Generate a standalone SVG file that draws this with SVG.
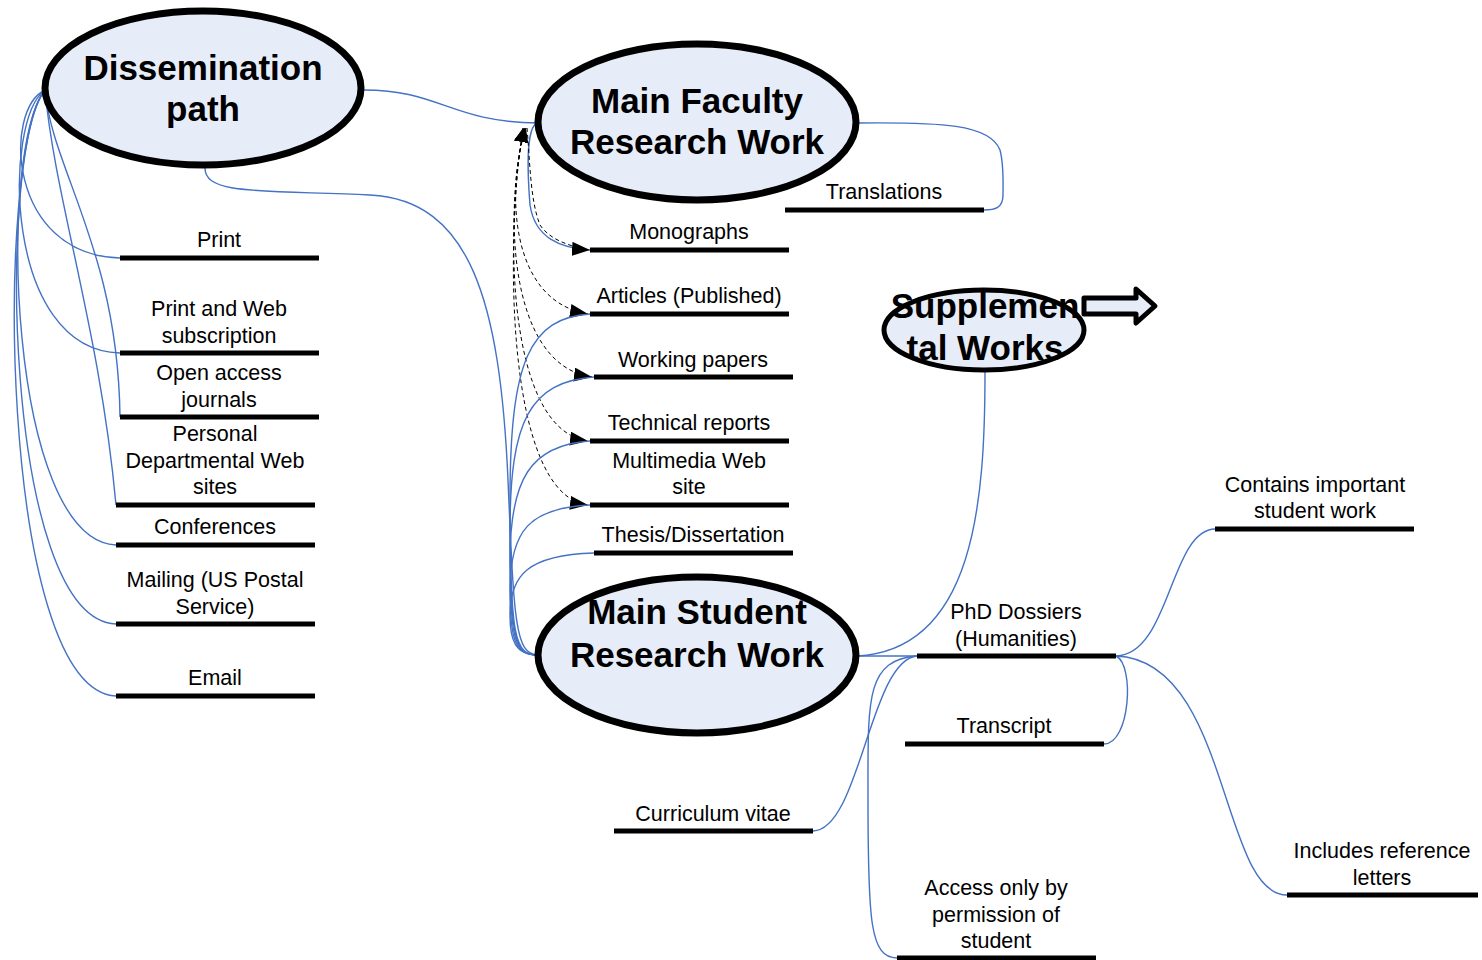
<svg xmlns="http://www.w3.org/2000/svg" width="1482" height="960" viewBox="0 0 1482 960">
<style>
.ell{fill:#e7edf8;stroke:#000;stroke-width:7}
.title{font-family:"Liberation Sans",Arial,sans-serif;font-weight:bold;font-size:35px;fill:#000;text-anchor:middle}
.lbl{font-family:"Liberation Sans",Arial,sans-serif;font-size:21.5px;fill:#000;text-anchor:middle}
.bar{stroke:#000;stroke-width:5;fill:none}
.c{fill:none;stroke:#4472c4;stroke-width:1.4}
.d{fill:none;stroke:#000;stroke-width:1;stroke-dasharray:4 3}
</style>
<defs>
<marker id="ah" markerUnits="userSpaceOnUse" markerWidth="20" markerHeight="14" refX="18" refY="7" orient="auto">
<path d="M0,0 L18,7 L0,14 Z" fill="#000"/>
</marker>
<marker id="as" markerUnits="userSpaceOnUse" markerWidth="16" markerHeight="14" refX="14" refY="7" orient="auto-start-reverse">
<path d="M0,0 L14,7 L0,14 Z" fill="#000"/>
</marker>
</defs>
<rect width="1482" height="960" fill="#fff"/>

<g id="connectors">
<path class="c" d="M45,90 C3,110 8,255 120,258"/>
<path class="c" d="M45,90 C3,120 3,350 120,353"/>
<path class="c" d="M45,90 C52,170 118,250 120,417"/>
<path class="c" d="M45,90 C55,200 100,330 116,505"/>
<path class="c" d="M45,90 C-3,150 8,540 116,545"/>
<path class="c" d="M45,90 C-3,150 3,620 116,624"/>
<path class="c" d="M45,90 C-5,150 -2,690 116,696"/>
<path class="c" d="M364,90 C440,90 450,122 538,123"/>
<path class="c" d="M205,168 C205,195 260,190 370,195 C470,200 500,300 508,480 C514,620 515,655 538,655"/>
<path class="c" d="M538,123 C525,125 528,180 530,205 C535,238 560,248 590,250" marker-end="url(#ah)"/>
<path class="d" d="M527,128 C530,160 530,200 540,225 C550,240 570,246 588,250"/>
<path class="d" d="M526,128 C508,180 505,300 588,314" marker-start="url(#as)" marker-end="url(#ah)"/>
<path class="d" d="M525,128 C505,200 505,365 592,377" marker-start="url(#as)" marker-end="url(#ah)"/>
<path class="d" d="M524,128 C505,220 505,430 588,441" marker-start="url(#as)" marker-end="url(#ah)"/>
<path class="d" d="M523,128 C505,240 505,495 588,505" marker-start="url(#as)" marker-end="url(#ah)"/>
<path class="c" d="M538,655 C515,655 510,640 510,615 C510,575 528,555 594,553"/>
<path class="c" d="M538,655 C515,655 510,640 510,590 C510,530 530,508 590,505"/>
<path class="c" d="M538,655 C515,655 510,640 510,560 C510,480 530,445 590,441"/>
<path class="c" d="M538,655 C515,655 510,640 510,530 C510,420 530,382 594,377"/>
<path class="c" d="M538,655 C515,655 510,640 510,500 C510,360 530,318 590,314"/>
<path class="c" d="M857,123 C940,122 990,124 1000,150 C1004,165 1003,185 1003,195 C1003,208 995,210 984,210"/>
<path class="c" d="M985,372 C985,500 975,650 857,656"/>
<path class="c" d="M857,656 C880,656 900,656 917,656"/>
<path class="c" d="M917,656 C870,660 860,830 813,831"/>
<path class="c" d="M917,656 C865,660 868,700 868,800 C868,920 870,958 897,958"/>
<path class="c" d="M1116,656 C1170,655 1170,530 1215,529"/>
<path class="c" d="M1116,656 C1230,660 1220,895 1287,895"/>
<path class="c" d="M1116,656 C1135,665 1130,744 1104,744"/>
</g>

<g id="dissemination">
<ellipse class="ell" cx="203" cy="88" rx="158" ry="77"/>
<text class="title" x="203" y="80">Dissemination</text>
<text class="title" x="203" y="121">path</text>
</g>
<g id="faculty">
<ellipse class="ell" cx="697" cy="122" rx="159" ry="78"/>
<text class="title" x="697" y="113">Main Faculty</text>
<text class="title" x="697" y="154">Research Work</text>
</g>
<g id="student">
<ellipse class="ell" cx="697" cy="655" rx="159" ry="78"/>
<text class="title" x="697" y="624">Main Student</text>
<text class="title" x="697" y="667">Research Work</text>
</g>
<g id="supplemental">
<ellipse class="ell" style="stroke-width:5" cx="984" cy="330" rx="100" ry="40"/>
<text class="title" x="985" y="318">Supplemen</text>
<text class="title" x="985" y="360">tal Works</text>
<path d="M1084,298 L1136,298 L1136,289 L1155,306 L1136,323 L1136,314 L1084,314 Z" fill="#e7edf8" stroke="#000" stroke-width="5" stroke-linejoin="round"/>
</g>

<g id="print"><line class="bar" x1="120" y1="258" x2="319" y2="258"/><text class="lbl" x="219" y="247">Print</text></g>
<g id="printweb"><line class="bar" x1="120" y1="353" x2="319" y2="353"/><text class="lbl" x="219" y="316">Print and Web</text><text class="lbl" x="219" y="343">subscription</text></g>
<g id="openaccess"><line class="bar" x1="120" y1="417" x2="319" y2="417"/><text class="lbl" x="219" y="380">Open access</text><text class="lbl" x="219" y="407">journals</text></g>
<g id="personal"><line class="bar" x1="116" y1="505" x2="315" y2="505"/><text class="lbl" x="215" y="441">Personal</text><text class="lbl" x="215" y="468">Departmental Web</text><text class="lbl" x="215" y="494">sites</text></g>
<g id="conferences"><line class="bar" x1="116" y1="545" x2="315" y2="545"/><text class="lbl" x="215" y="534">Conferences</text></g>
<g id="mailing"><line class="bar" x1="116" y1="624" x2="315" y2="624"/><text class="lbl" x="215" y="587">Mailing (US Postal</text><text class="lbl" x="215" y="614">Service)</text></g>
<g id="email"><line class="bar" x1="116" y1="696" x2="315" y2="696"/><text class="lbl" x="215" y="685">Email</text></g>

<g id="translations"><line class="bar" x1="785" y1="210" x2="984" y2="210"/><text class="lbl" x="884" y="199">Translations</text></g>
<g id="monographs"><line class="bar" x1="590" y1="250" x2="789" y2="250"/><text class="lbl" x="689" y="239">Monographs</text></g>
<g id="articles"><line class="bar" x1="590" y1="314" x2="789" y2="314"/><text class="lbl" x="689" y="303">Articles (Published)</text></g>
<g id="working"><line class="bar" x1="594" y1="377" x2="793" y2="377"/><text class="lbl" x="693" y="367">Working papers</text></g>
<g id="technical"><line class="bar" x1="590" y1="441" x2="789" y2="441"/><text class="lbl" x="689" y="430">Technical reports</text></g>
<g id="multimedia"><line class="bar" x1="590" y1="505" x2="789" y2="505"/><text class="lbl" x="689" y="468">Multimedia Web</text><text class="lbl" x="689" y="494">site</text></g>
<g id="thesis"><line class="bar" x1="594" y1="553" x2="793" y2="553"/><text class="lbl" x="693" y="542">Thesis/Dissertation</text></g>

<g id="phd"><line class="bar" x1="917" y1="656" x2="1116" y2="656"/><text class="lbl" x="1016" y="619">PhD Dossiers</text><text class="lbl" x="1016" y="646">(Humanities)</text></g>
<g id="transcript"><line class="bar" x1="905" y1="744" x2="1104" y2="744"/><text class="lbl" x="1004" y="733">Transcript</text></g>
<g id="cv"><line class="bar" x1="614" y1="831" x2="813" y2="831"/><text class="lbl" x="713" y="821">Curriculum vitae</text></g>
<g id="access"><line class="bar" x1="897" y1="958" x2="1096" y2="958"/><text class="lbl" x="996" y="895">Access only by</text><text class="lbl" x="996" y="922">permission of</text><text class="lbl" x="996" y="948">student</text></g>
<g id="contains"><line class="bar" x1="1215" y1="529" x2="1414" y2="529"/><text class="lbl" x="1315" y="492">Contains important</text><text class="lbl" x="1315" y="518">student work</text></g>
<g id="includes"><line class="bar" x1="1287" y1="895" x2="1478" y2="895"/><text class="lbl" x="1382" y="858">Includes reference</text><text class="lbl" x="1382" y="885">letters</text></g>
</svg>
